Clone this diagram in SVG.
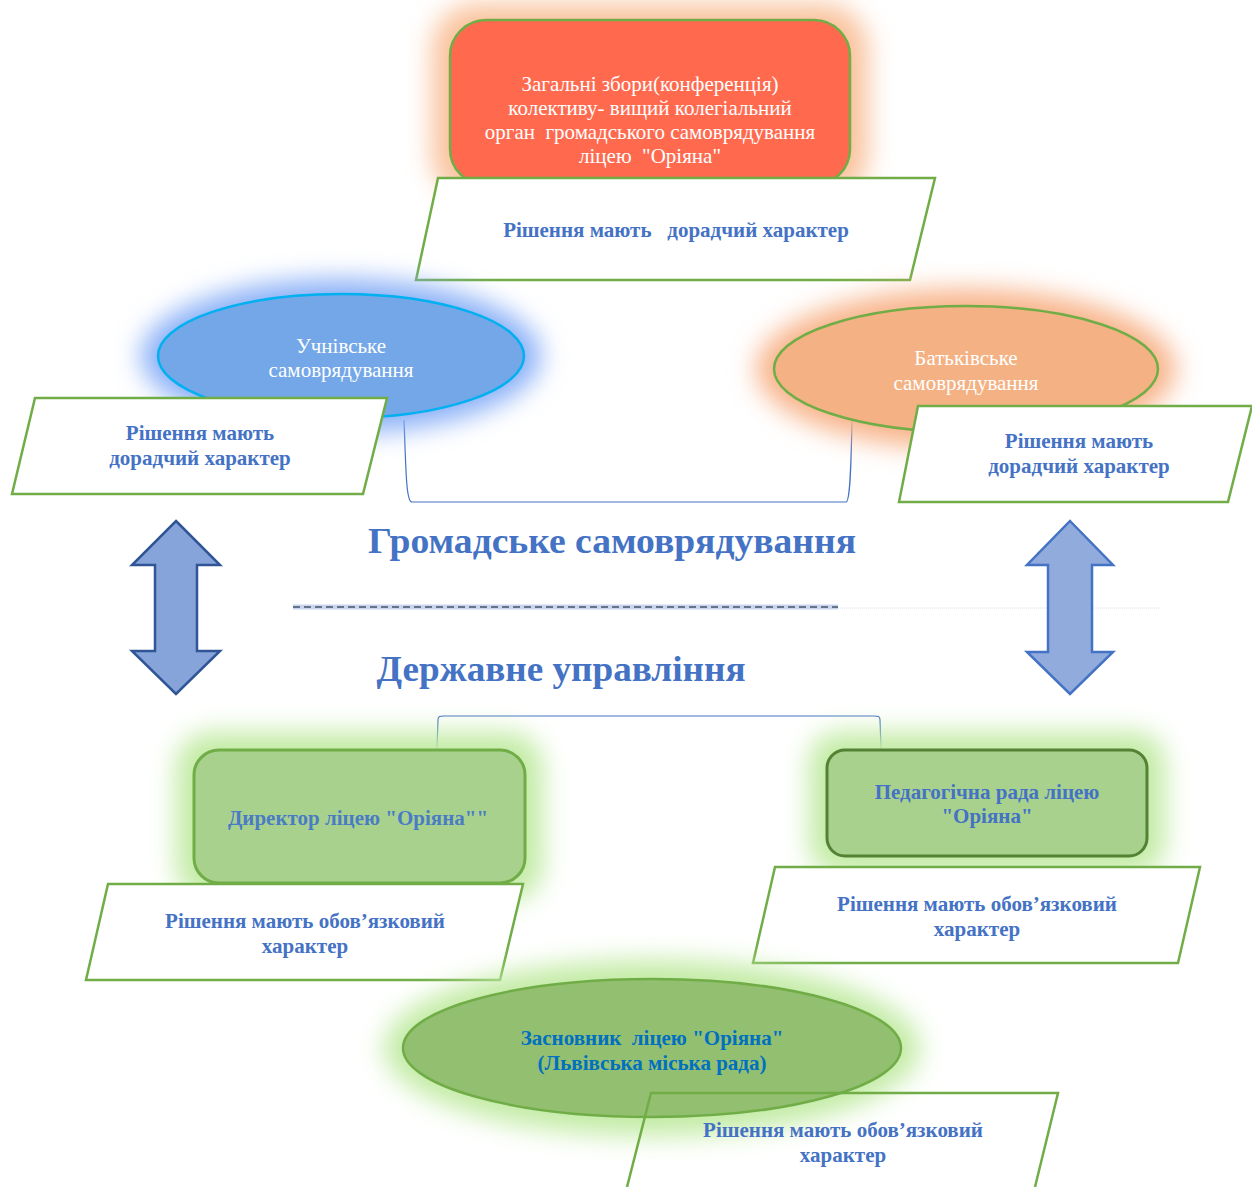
<svg xmlns="http://www.w3.org/2000/svg" width="1252" height="1187" viewBox="0 0 1252 1187">
<defs>
<filter id="glow" x="-30%" y="-30%" width="160%" height="160%"><feGaussianBlur stdDeviation="13"/></filter>
<style>
.w{font-family:"Liberation Serif",serif;font-size:21px;fill:#fff;text-anchor:middle}
.b{font-family:"Liberation Serif",serif;font-size:21px;font-weight:bold;fill:#4472C4;text-anchor:middle}
.para{fill:#fff;stroke:#70AD47;stroke-width:2.5}
.conn{fill:none;stroke:#4472C4;stroke-width:1.2}
.big{font-family:"Liberation Serif",serif;font-size:36px;font-weight:bold;fill:#4472C4;text-anchor:middle}
</style>
</defs>
<rect width="1252" height="1187" fill="#fff"/>

<g id="connectors">
<path class="conn" d="M404,420 C406,470 406,502 412,502 L846,502 C850,502 851,470 852,420"/>
<path class="conn" d="M437,748 L438,720 C438,716 440,716 444,716 L874,716 C878,716 880,716 880,720 L881,748"/>
</g>

<g id="top-node">
<rect x="432" y="4" width="436" height="196" rx="45" fill="#F9C29C" filter="url(#glow)"/>
<rect x="450" y="20" width="400" height="165" rx="36" fill="#FF6A4F" stroke="#70AD47" stroke-width="2.5"/>
<text class="w" x="650" y="91">Загальні збори(конференція)</text>
<text class="w" x="650" y="115">колективу- вищий колегіальний</text>
<text class="w" x="650" y="139" xml:space="preserve">орган  громадського самоврядування</text>
<text class="w" x="650" y="163" xml:space="preserve">ліцею  "Оріяна"</text>
</g>
<g id="top-note">
<polygon class="para" points="438,178 935,178 910,280 416,280"/>
<text class="b" x="676" y="237" xml:space="preserve">Рішення мають   дорадчий характер</text>
</g>

<g id="student">
<ellipse cx="341" cy="356" rx="200" ry="77" fill="#8AB0F7" filter="url(#glow)"/>
<ellipse cx="341" cy="356" rx="183" ry="62" fill="#73A7E8" stroke="#00B0F0" stroke-width="2.5"/>
<text class="w" x="341" y="353">Учнівське</text>
<text class="w" x="341" y="377">самоврядування</text>
</g>
<g id="student-note">
<polygon class="para" points="35,398 387,398 363,494 12,494"/>
<text class="b" x="200" y="440">Рішення мають</text>
<text class="b" x="200" y="465">дорадчий характер</text>
</g>

<g id="parent">
<ellipse cx="966" cy="369" rx="210" ry="80" fill="#F8B48A" filter="url(#glow)"/>
<ellipse cx="966" cy="369" rx="192" ry="63" fill="#F4B183" stroke="#70AD47" stroke-width="2.5"/>
<text class="w" x="966" y="365">Батьківське</text>
<text class="w" x="966" y="390">самоврядування</text>
</g>
<g id="parent-note">
<polygon class="para" points="918,406 1252,406 1228,502 899,502"/>
<text class="b" x="1079" y="448">Рішення мають</text>
<text class="b" x="1079" y="473">дорадчий характер</text>
</g>

<g id="headings">
<text class="big" x="612" y="553" textLength="488" lengthAdjust="spacingAndGlyphs">Громадське самоврядування</text>
<text class="big" x="561" y="681" textLength="369" lengthAdjust="spacingAndGlyphs">Державне управління</text>
<line x1="293" y1="607" x2="838" y2="607" stroke="#C9D5EE" stroke-width="5"/>
<line x1="293" y1="607" x2="838" y2="607" stroke="#44546A" stroke-width="1.5" stroke-dasharray="7,4"/>
<line x1="838" y1="608" x2="1160" y2="608" stroke="#D6DCE8" stroke-width="1" stroke-dasharray="1,1"/>
</g>

<g id="arrow-left">
<polygon points="176,521 220,565 197,565 197,651 220,651 176,694 132,651 155,651 155,565 132,565" fill="#86A3DA" stroke="#2F5597" stroke-width="2.5"/>
</g>
<g id="arrow-right">
<polygon points="1070,521 1113,565 1092,565 1092,652 1113,652 1070,694 1027,652 1048,652 1048,565 1027,565" fill="#91ABDD" stroke="#4472C4" stroke-width="2.5"/>
</g>

<g id="director">
<rect x="176" y="732" width="367" height="169" rx="35" fill="#C2EBA4" filter="url(#glow)"/>
<rect x="194" y="750" width="331" height="133" rx="25" fill="#A9D18E" stroke="#70AD47" stroke-width="3"/>
<text class="b" x="358" y="825" style="fill:#4A7CC4">Директор ліцею "Оріяна""</text>
</g>
<g id="director-note">
<polygon class="para" points="108,884 523,884 500,980 86,980"/>
<text class="b" x="305" y="928">Рішення мають обов’язковий</text>
<text class="b" x="305" y="953">характер</text>
</g>

<g id="pedagogical">
<rect x="809" y="732" width="356" height="142" rx="30" fill="#C2EBA4" filter="url(#glow)"/>
<rect x="827" y="750" width="320" height="106" rx="18" fill="#A9D18E" stroke="#548235" stroke-width="3"/>
<text class="b" x="987" y="799">Педагогічна рада ліцею</text>
<text class="b" x="987" y="823">"Оріяна"</text>
</g>
<g id="pedagogical-note">
<polygon class="para" points="775,867 1200,867 1178,963 753,963"/>
<text class="b" x="977" y="911">Рішення мають обов’язковий</text>
<text class="b" x="977" y="936">характер</text>
</g>

<g id="founder">
<ellipse cx="652" cy="1048" rx="268" ry="88" fill="#C2EBA4" filter="url(#glow)"/>
<ellipse cx="652" cy="1048" rx="249" ry="69" fill="#93BF70" stroke="#70AD47" stroke-width="2.5"/>
<text class="b" x="652" y="1045" style="fill:#0070C0" xml:space="preserve">Засновник  ліцею "Оріяна"</text>
<text class="b" x="652" y="1070" style="fill:#0070C0">(Львівська міська рада)</text>
</g>
<g id="founder-note">
<path d="M627,1187 L651,1093 L1058,1093 L1035,1187" fill="none" stroke="#70AD47" stroke-width="2.5"/>
<text class="b" x="843" y="1137">Рішення мають обов’язковий</text>
<text class="b" x="843" y="1162">характер</text>
</g>
</svg>
